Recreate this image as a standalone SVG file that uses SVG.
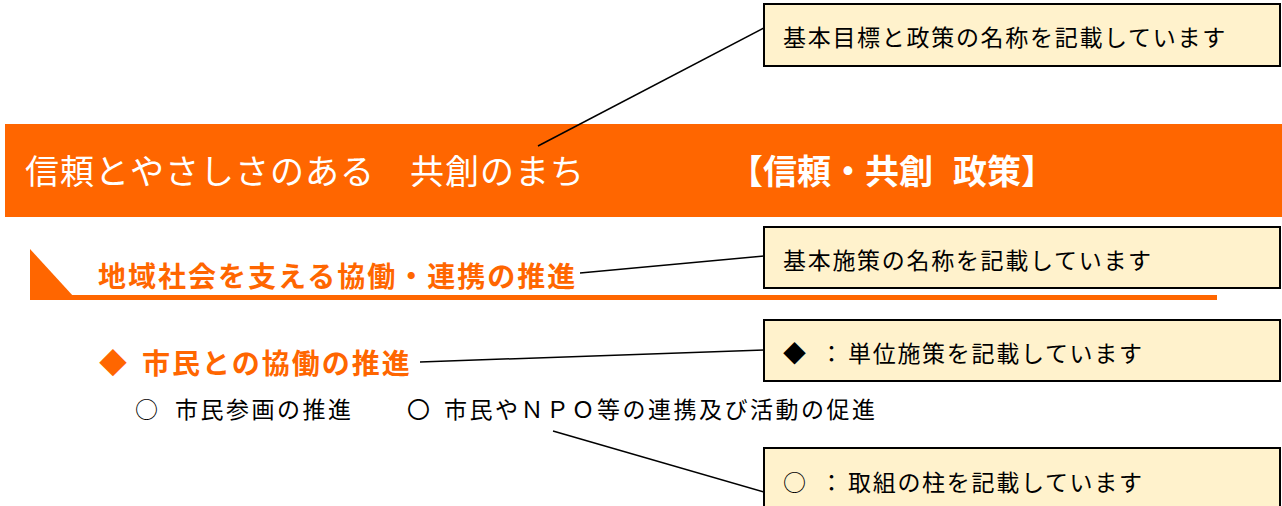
<svg xmlns="http://www.w3.org/2000/svg" width="1282" height="506" viewBox="0 0 1282 506">
<style>
.jp{font-family:"Noto Sans CJK JP","Noto Sans",sans-serif;}
.note{fill:#FFF2CC;stroke:#000;stroke-width:2;}
.nt{font-size:23px;letter-spacing:1.7px;fill:#000;}
.body{font-size:23px;letter-spacing:2.5px;fill:#000;}
.orange{fill:#FF6600;}
.ob{font-weight:bold;fill:#FF6600;letter-spacing:2px;}
.wt{fill:#fff;}
.conn line{stroke:#000;stroke-width:1.5;}
</style>
<rect width="1282" height="506" fill="#fff"/>
<g id="banner">
<rect x="5" y="124" width="1277" height="93" class="orange"/>
<text class="jp wt" x="25" y="184" font-size="34" letter-spacing="1">信頼とやさしさのある　共創のまち</text>
<text class="jp wt" x="729" y="184" font-size="34" font-weight="bold">【信頼・共創<tspan x="953">政策】</tspan></text>
</g>
<g id="subheading">
<polygon points="30,249 74,297 30,297" class="orange"/>
<rect x="30" y="295" width="1187" height="5" class="orange"/>
<text class="jp ob" x="98" y="287" font-size="28">地域社会を支える協働・連携の推進</text>
</g>
<g id="unit-policy">
<text class="jp ob" x="99" y="374" font-size="28">◆<tspan x="142">市民との協働の推進</tspan></text>
</g>
<g id="pillars">
<text class="jp body" x="135" y="418">○<tspan x="175">市民参画の推進</tspan></text>
<text class="jp body" x="407" y="418">〇<tspan x="444">市民やＮＰＯ等の連携及び活動の促進</tspan></text>
</g>
<g class="conn">
<line x1="538" y1="146" x2="764" y2="28"/>
<line x1="580" y1="273" x2="764" y2="256"/>
<line x1="420" y1="362" x2="764" y2="350"/>
<line x1="553" y1="431" x2="764" y2="492"/>
</g>
<g id="note1">
<rect x="764" y="4" width="516" height="62" class="note"/>
<text class="jp nt" x="783" y="46">基本目標と政策の名称を記載しています</text>
</g>
<g id="note2">
<rect x="764" y="227" width="516" height="61" class="note"/>
<text class="jp nt" x="783" y="269">基本施策の名称を記載しています</text>
</g>
<g id="note3">
<rect x="764" y="320" width="516" height="61" class="note"/>
<text class="jp nt" x="783" y="362">◆<tspan x="820">：</tspan><tspan x="848">単位施策を記載しています</tspan></text>
</g>
<g id="note4">
<rect x="764" y="448" width="516" height="70" class="note"/>
<text class="jp nt" x="783" y="491">○<tspan x="820">：</tspan><tspan x="848">取組の柱を記載しています</tspan></text>
</g>
</svg>
